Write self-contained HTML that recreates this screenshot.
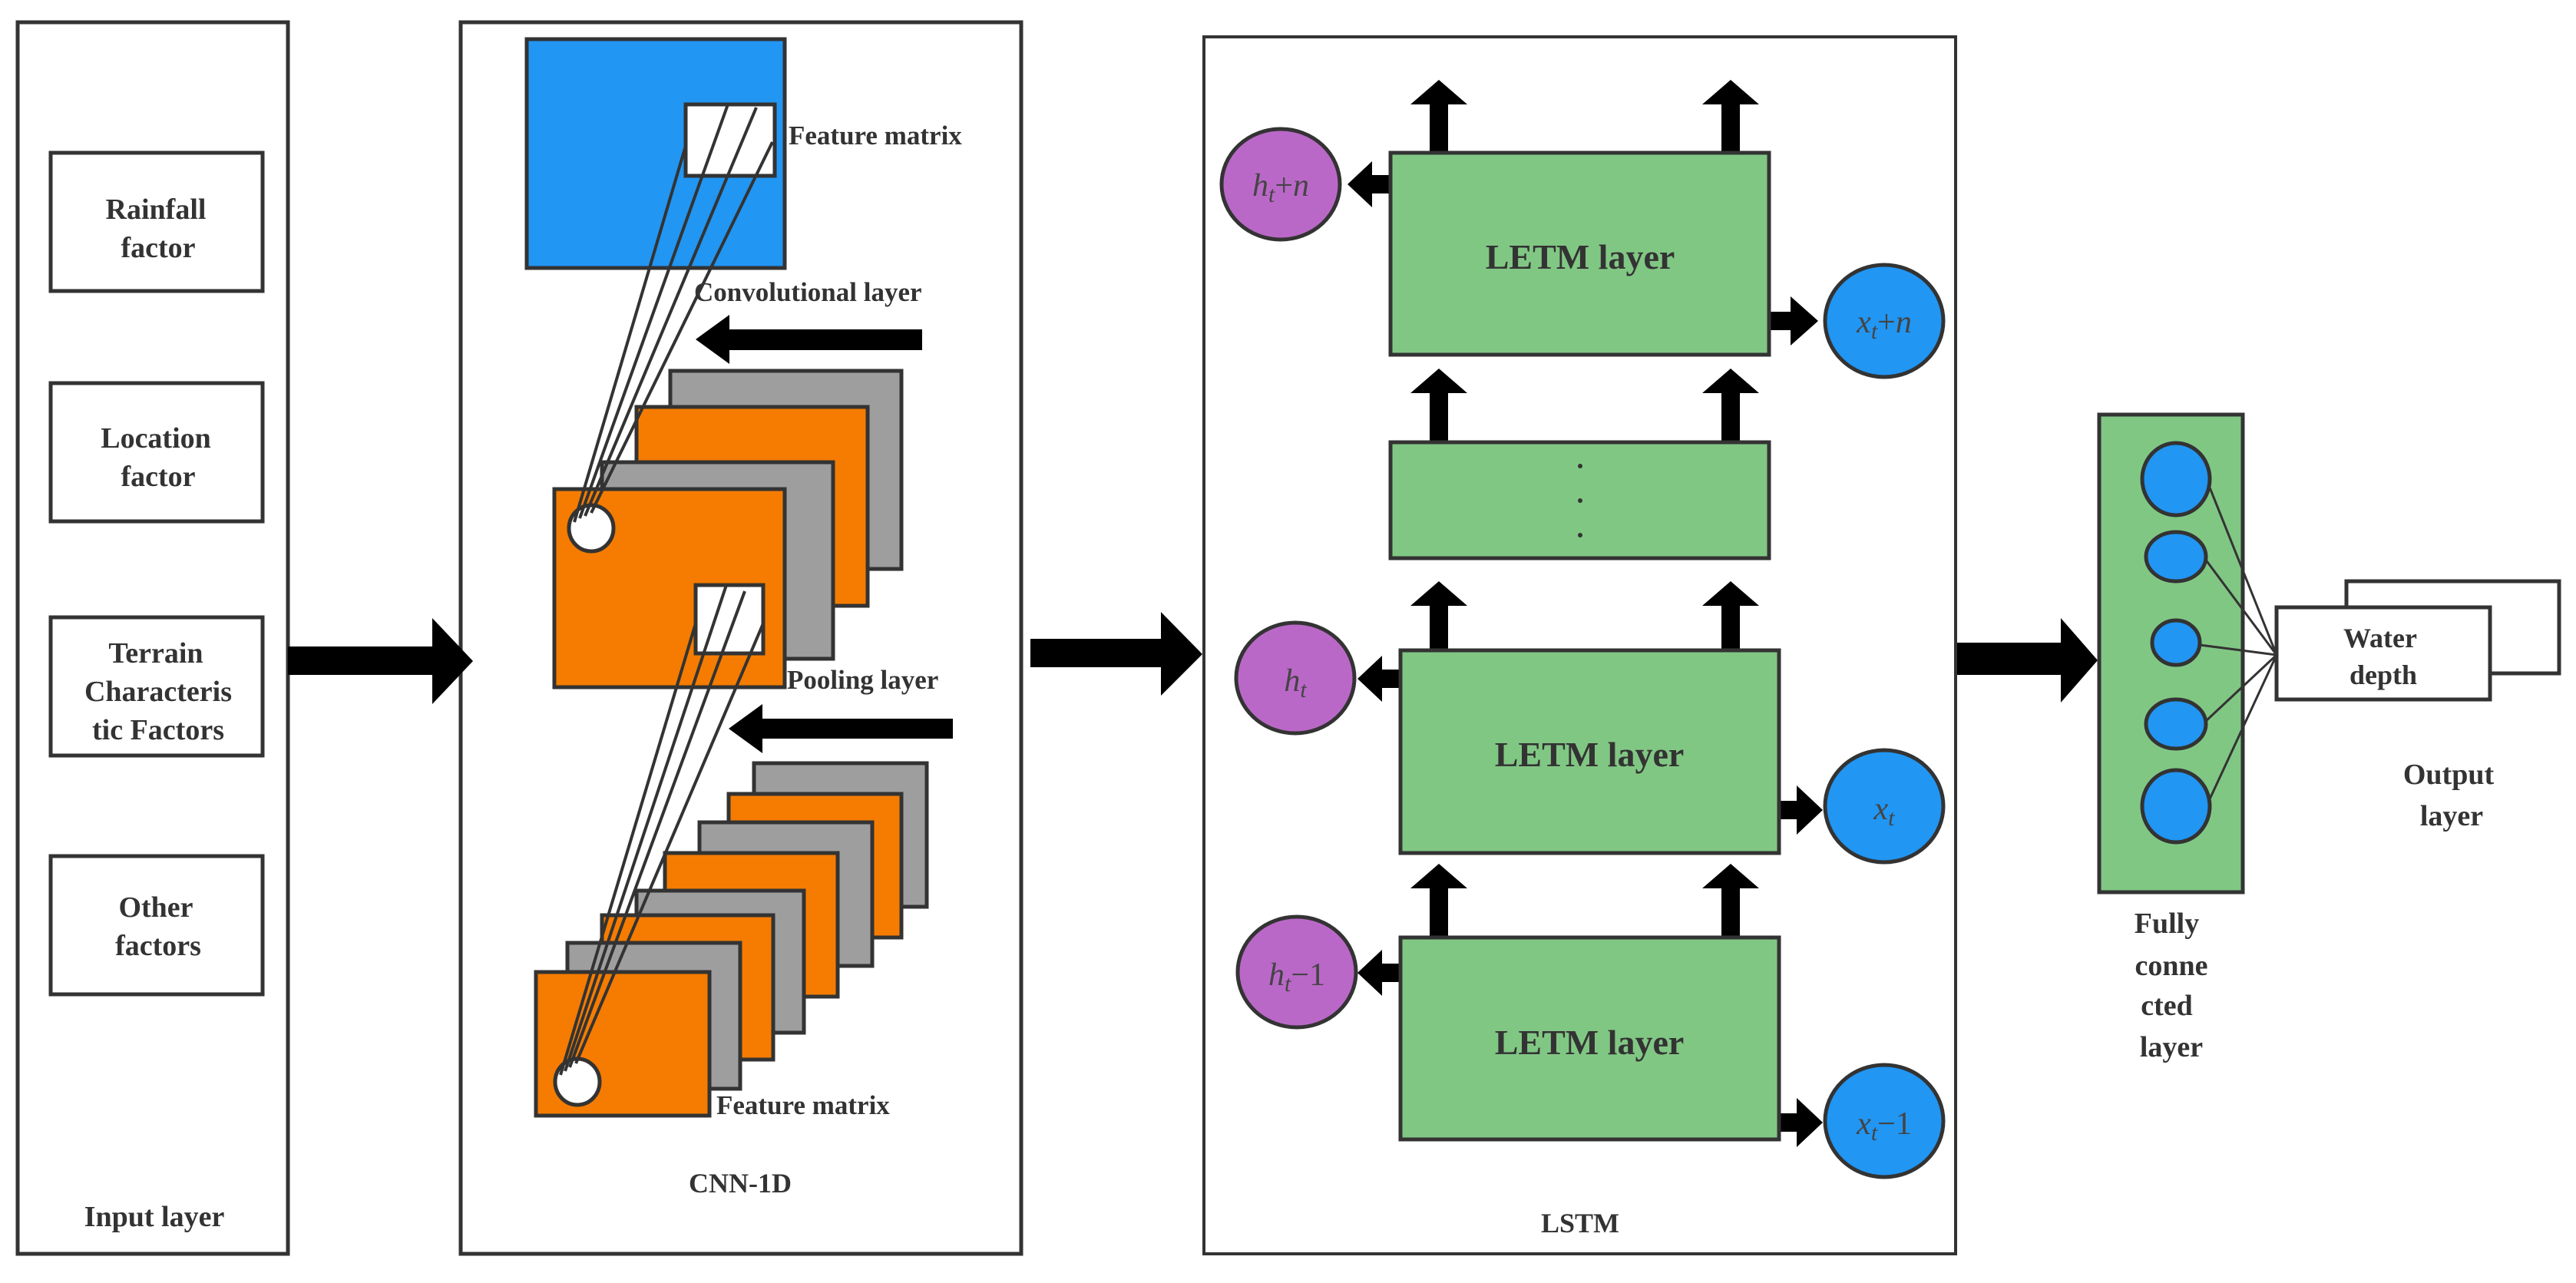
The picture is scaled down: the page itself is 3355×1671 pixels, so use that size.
<!DOCTYPE html>
<html><head><meta charset="utf-8"><style>
html,body{margin:0;padding:0;background:#fff;width:3355px;height:1671px;overflow:hidden}
svg{display:block}
.t{font-family:"Liberation Serif","DejaVu Serif","Times New Roman",serif;font-weight:bold;fill:#333}
.m{font-family:"Liberation Serif","DejaVu Serif","Times New Roman",serif;font-style:italic;fill:#444}
</style></head><body>
<svg width="3355" height="1671" viewBox="0 0 3355 1671" xmlns="http://www.w3.org/2000/svg">
<g stroke="#333" stroke-width="5" fill="none">
<rect x="23" y="29" width="352" height="1604" fill="#fff"/>
<rect x="66" y="199" width="276" height="180" fill="#fff"/>
<rect x="66" y="499" width="276" height="180" fill="#fff"/>
<rect x="66" y="804" width="276" height="180" fill="#fff"/>
<rect x="66" y="1115" width="276" height="180" fill="#fff"/>
<rect x="600" y="29" width="730" height="1604" fill="#fff"/>
<rect x="686" y="51" width="336" height="298" fill="#2196F3"/>
<rect x="893" y="136" width="116" height="93" fill="#fff"/>
<rect x="873" y="483" width="301" height="258" fill="#9E9E9E"/>
<rect x="829" y="530" width="301" height="259" fill="#F57C00"/>
<rect x="784" y="602" width="301" height="256" fill="#9E9E9E"/>
<rect x="722" y="637" width="300" height="258" fill="#F57C00"/>
<ellipse cx="770" cy="688" rx="29" ry="30" fill="#fff"/>
<rect x="906" y="762" width="88" height="89" fill="#fff"/>
<rect x="982" y="994" width="225" height="187" fill="#9E9E9E"/>
<rect x="949" y="1034" width="225" height="187" fill="#F57C00"/>
<rect x="911" y="1071" width="225" height="187" fill="#9E9E9E"/>
<rect x="866" y="1111" width="225" height="187" fill="#F57C00"/>
<rect x="829" y="1160" width="218" height="185" fill="#9E9E9E"/>
<rect x="784" y="1192" width="223" height="188" fill="#F57C00"/>
<rect x="739" y="1228" width="225" height="190" fill="#9E9E9E"/>
<rect x="698" y="1266" width="226" height="187" fill="#F57C00"/>
<ellipse cx="752" cy="1409" rx="29" ry="30" fill="#fff"/>
</g>
<g stroke="#333" stroke-width="4">
<line x1="893" y1="190" x2="748" y2="680"/>
<line x1="948" y1="136" x2="755" y2="675"/>
<line x1="985" y1="140" x2="762" y2="672"/>
<line x1="1006" y1="185" x2="770" y2="668"/>
<line x1="906" y1="812" x2="730" y2="1400"/>
<line x1="946" y1="762" x2="736" y2="1395"/>
<line x1="970" y1="770" x2="742" y2="1390"/>
<line x1="994" y1="812" x2="750" y2="1385"/>
</g>
<g fill="#000">
<polygon points="375,842 563,842 563,805 616,861 563,917 563,879 375,879"/>
<polygon points="1342,832 1512,832 1512,797 1566,852 1512,906 1512,869 1342,869"/>
<polygon points="2547,837 2684,837 2684,805 2732,860 2684,915 2684,879 2547,879"/>
<polygon points="1201,429 950,429 950,410 906,442 950,474 950,456 1201,456"/>
<polygon points="1241,936 993,936 993,917 949,949 993,981 993,962 1241,962"/>
</g>
<rect x="1568" y="48" width="979" height="1585" fill="#fff" stroke="#333" stroke-width="4"/>
<g fill="#000">
<polygon points="1862,199 1862,136 1837,136 1874,104 1911,136 1886,136 1886,199"/>
<polygon points="2242,199 2242,136 2217,136 2254,104 2291,136 2266,136 2266,199"/>
<polygon points="1862,576 1862,512 1837,512 1874,480 1911,512 1886,512 1886,576"/>
<polygon points="2242,576 2242,512 2217,512 2254,480 2291,512 2266,512 2266,576"/>
<polygon points="1862,847 1862,789 1837,789 1874,757 1911,789 1886,789 1886,847"/>
<polygon points="2242,847 2242,789 2217,789 2254,757 2291,789 2266,789 2266,847"/>
<polygon points="1862,1221 1862,1157 1837,1157 1874,1125 1911,1157 1886,1157 1886,1221"/>
<polygon points="2242,1221 2242,1157 2217,1157 2254,1125 2291,1157 2266,1157 2266,1221"/>
<polygon points="1811,228 1787,228 1787,210 1755,240 1787,270 1787,252 1811,252"/>
<polygon points="1824,872 1800,872 1800,854 1768,884 1800,914 1800,896 1824,896"/>
<polygon points="1824,1255 1800,1255 1800,1237 1768,1267 1800,1297 1800,1279 1824,1279"/>
<polygon points="2304,406 2332,406 2332,386 2368,418 2332,450 2332,430 2304,430"/>
<polygon points="2317,1043 2340,1043 2340,1023 2374,1055 2340,1087 2340,1067 2317,1067"/>
<polygon points="2317,1450 2340,1450 2340,1430 2374,1462 2340,1494 2340,1474 2317,1474"/>
</g>
<g stroke="#333" stroke-width="5">
<rect x="1811" y="199" width="493" height="263" fill="#81C784"/>
<rect x="1811" y="576" width="493" height="151" fill="#81C784"/>
<rect x="1824" y="847" width="493" height="264" fill="#81C784"/>
<rect x="1824" y="1221" width="493" height="263" fill="#81C784"/>
<ellipse cx="1668" cy="240" rx="77" ry="72" fill="#BA68C8"/>
<ellipse cx="1687" cy="883" rx="77" ry="72" fill="#BA68C8"/>
<ellipse cx="1689" cy="1266" rx="77" ry="72" fill="#BA68C8"/>
<ellipse cx="2454" cy="418" rx="77" ry="73" fill="#2196F3"/>
<ellipse cx="2454" cy="1050" rx="77" ry="73" fill="#2196F3"/>
<ellipse cx="2454" cy="1460" rx="77" ry="73" fill="#2196F3"/>
<rect x="2734" y="540" width="187" height="622" fill="#81C784"/>
<ellipse cx="2834" cy="624" rx="44" ry="47" fill="#2196F3"/>
<ellipse cx="2834" cy="725" rx="39" ry="32" fill="#2196F3"/>
<ellipse cx="2834" cy="837" rx="31" ry="29" fill="#2196F3"/>
<ellipse cx="2834" cy="943" rx="39" ry="32" fill="#2196F3"/>
<ellipse cx="2834" cy="1050" rx="44" ry="47" fill="#2196F3"/>
<rect x="3056" y="757" width="277" height="120" fill="#fff"/>
<rect x="2965" y="791" width="278" height="120" fill="#fff"/>
</g>
<g stroke="#333" stroke-width="3">
<line x1="2876" y1="630" x2="2965" y2="853"/>
<line x1="2872" y1="728" x2="2965" y2="853"/>
<line x1="2865" y1="840" x2="2965" y2="853"/>
<line x1="2872" y1="940" x2="2965" y2="853"/>
<line x1="2876" y1="1045" x2="2965" y2="853"/>
</g>
<g fill="#333"><circle cx="2058" cy="607" r="3"/><circle cx="2058" cy="652" r="3"/><circle cx="2058" cy="697" r="3"/></g>
<g class="t" font-size="38" text-anchor="middle">
<text x="203" y="285">Rainfall</text><text x="206" y="335">factor</text>
<text x="203" y="583">Location</text><text x="206" y="633">factor</text>
<text x="203" y="863">Terrain</text><text x="206" y="913">Characteris</text><text x="206" y="963">tic Factors</text>
<text x="203" y="1194">Other</text><text x="206" y="1244">factors</text>
<text x="201" y="1597">Input layer</text>
<text x="964" y="1553" font-size="36">CNN-1D</text>
<text x="2058" y="1605" font-size="36">LSTM</text>
<text x="2058" y="350" font-size="46">LETM layer</text>
<text x="2070" y="998" font-size="46">LETM layer</text>
<text x="2070" y="1373" font-size="46">LETM layer</text>
<text x="3100" y="843" font-size="36">Water</text><text x="3104" y="891" font-size="36">depth</text>
<text x="3189" y="1021" font-size="38">Output</text><text x="3193" y="1075" font-size="38">layer</text>
<text x="2822" y="1215" font-size="38">Fully</text><text x="2828" y="1270" font-size="38">conne</text><text x="2822" y="1322" font-size="38">cted</text><text x="2828" y="1376" font-size="38">layer</text>
</g>
<g class="t" font-size="35">
<text x="1027" y="188">Feature matrix</text>
<text x="904" y="392">Convolutional layer</text>
<text x="1025" y="897">Pooling layer</text>
<text x="933" y="1451">Feature matrix</text>
</g>
<g class="m" font-size="42" text-anchor="middle">
<text x="1668" y="255">h<tspan font-size="30" dy="8">t</tspan><tspan dy="-8" font-style="normal">+</tspan>n</text>
<text x="1687" y="900">h<tspan font-size="30" dy="8">t</tspan></text>
<text x="1689" y="1283">h<tspan font-size="30" dy="8">t</tspan><tspan dy="-8" font-style="normal">−1</tspan></text>
<text x="2454" y="433">x<tspan font-size="30" dy="8">t</tspan><tspan dy="-8" font-style="normal">+</tspan>n</text>
<text x="2454" y="1067">x<tspan font-size="30" dy="8">t</tspan></text>
<text x="2454" y="1477">x<tspan font-size="30" dy="8">t</tspan><tspan dy="-8" font-style="normal">−1</tspan></text>
</g>
</svg>
</body></html>
